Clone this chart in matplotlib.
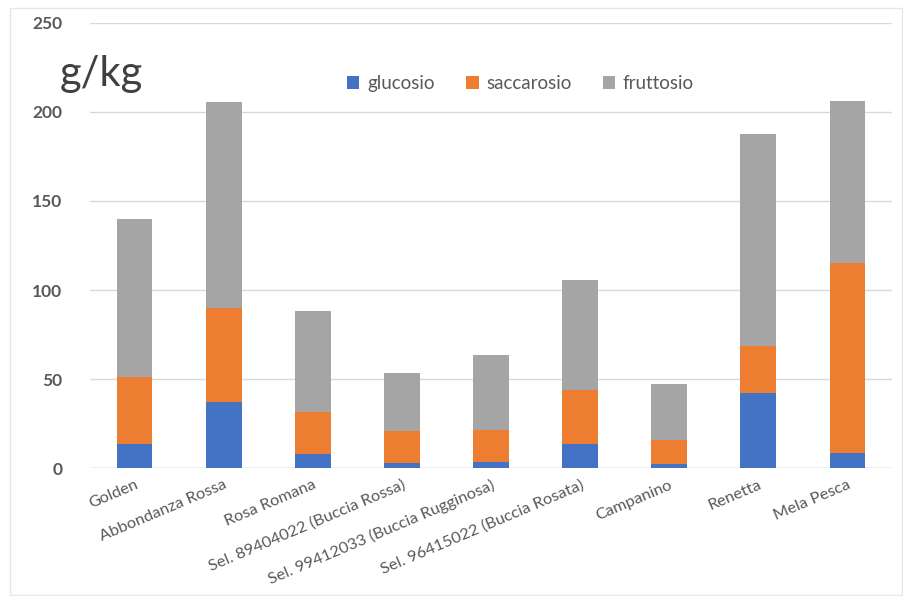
import matplotlib
matplotlib.use("Agg")
import matplotlib.pyplot as plt
from matplotlib.patches import Rectangle, Patch
import numpy as np

plt.rcParams['font.family'] = ['Lato', 'DejaVu Sans']

varieties = [
    "Golden", "Abbondanza Rossa", "Rosa Romana",
    "Sel. 89404022 (Buccia Rossa)", "Sel. 99412033 (Buccia Rugginosa)",
    "Sel. 96415022 (Buccia Rosata)", "Campanino", "Renetta", "Mela Pesca",
]
glucosio = [13.7, 37.1, 7.9, 2.8, 3.4, 13.5, 2.2, 42.5, 8.4]
saccarosio = [37.5, 53.1, 23.9, 18.0, 18.1, 30.5, 13.7, 26.3, 106.9]
fruttosio = [88.5, 115.4, 56.3, 32.8, 41.8, 61.9, 31.5, 119.0, 90.5]
y_ticks = [0, 50, 100, 150, 200, 250]

series = [
    ("glucosio", glucosio, "#4472C4"),
    ("saccarosio", saccarosio, "#ED7D31"),
    ("fruttosio", fruttosio, "#A5A5A5"),
]

fig = plt.figure(figsize=(9.04, 5.96), dpi=100)
ax = fig.add_axes([0.0996, 0.2143, 0.8871, 0.7476])

x = np.arange(len(varieties))
bottom = np.zeros(len(varieties))
for name, vals, color in series:
    ax.bar(x, vals, width=0.4, bottom=bottom, color=color, label=name, zorder=3)
    bottom += np.array(vals)

ax.set_xlim(-0.5, len(varieties) - 0.5)
ax.set_ylim(0, 250)
ax.set_yticks(y_ticks)
ax.set_yticklabels([str(v) for v in y_ticks], fontsize=12.5, fontweight='bold', color='#595959')
ax.grid(axis='y', color='#d9d9d9', linewidth=1.0, zorder=0)
ax.tick_params(axis='y', length=0, pad=20)
ax.tick_params(axis='x', length=0, pad=7)
for s in ax.spines.values():
    s.set_visible(False)
ax.axhline(0, color='#cfcfcf', linewidth=1.0, zorder=2)

ax.set_xticks(x)
ax.set_xticklabels(varieties, rotation=23, ha='right', rotation_mode='anchor',
                   fontsize=11.8, color='#595959')

fig.text(0.066, 0.876, "g/kg", fontsize=30, color='#404040', va='center', ha='left')

handles = [Patch(facecolor=c, label=n) for n, _, c in series]
fig.legend(handles=handles, loc='center', bbox_to_anchor=(0.576, 0.86), ncol=3,
           frameon=False, fontsize=13.5, labelcolor='#595959',
           handlelength=0.65, handleheight=0.65, handletextpad=0.4, columnspacing=1.7)

fig.patches.append(Rectangle((0.011, 0.002), 0.987, 0.985, transform=fig.transFigure,
                             fill=False, edgecolor='#e6e6e6', linewidth=1.0))

fig.savefig("out.png", dpi=100, facecolor='white')
